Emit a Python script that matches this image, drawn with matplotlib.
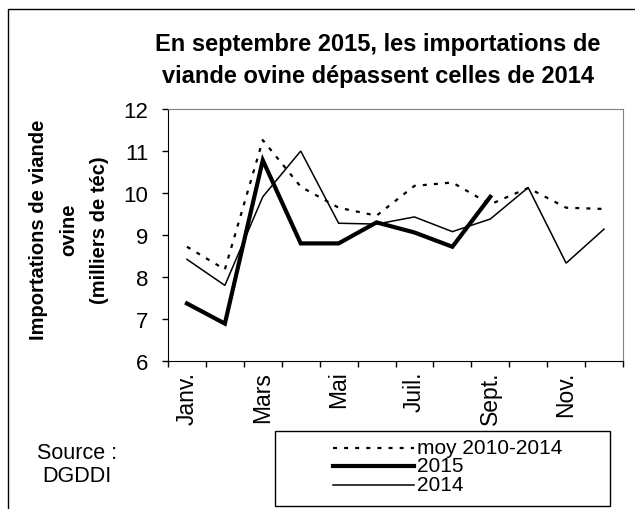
import numpy as np
import matplotlib
matplotlib.use("Agg")
import matplotlib.pyplot as plt
from matplotlib.lines import Line2D
from matplotlib.patches import Rectangle

plt.rcParams['font.family'] = ['Liberation Sans', 'DejaVu Sans']

# Data (milliers de téc)
months = ['Janv.', 'Févr.', 'Mars', 'Avr.', 'Mai', 'Juin',
          'Juil.', 'Août', 'Sept.', 'Oct.', 'Nov.', 'Déc.']
moy_2010_2014 = [8.72, 8.18, 11.26, 10.15, 9.65, 9.46, 10.17, 10.25, 9.73, 10.12, 9.65, 9.62]
imports_2015 = [7.37, 6.89, 10.78, 8.80, 8.80, 9.30, 9.06, 8.72, 9.91]
imports_2014 = [8.42, 7.80, 9.91, 11.00, 9.28, 9.26, 9.43, 9.08, 9.38, 10.13, 8.33, 9.14]

W, H = 635, 510
fig = plt.figure(figsize=(W / 100, H / 100), dpi=100)

# plot area in pixels: left 168, right 623, top 110, bottom 362
ax = fig.add_axes([168 / W, 1 - 362 / H, (623 - 168) / W, (362 - 110) / H])

series = [
    ('moy 2010-2014', moy_2010_2014, dict(color='black', lw=1.6, ls=(0, (1.8, 3.2)))),
    ('2015', imports_2015, dict(color='black', lw=3.0, ls='-')),
    ('2014', imports_2014, dict(color='black', lw=1.1, ls='-')),
]

for label, vals, style in series:
    ax.plot(np.arange(len(vals)), vals, solid_joinstyle='miter', **style)

ax.set_xlim(-0.5, len(months) - 0.5)
ax.set_ylim(6, 12)
ax.set_yticks(range(6, 13))

# category boundaries as major ticks, labels on every other month
ax.set_xticks(np.arange(-0.5, len(months), 1.0))
ax.set_xticklabels([])
ax.set_xticks(np.arange(0, len(months), 2), minor=True)
ax.set_xticklabels(months[::2], minor=True, rotation=90, fontsize=16.5)
ax.tick_params(axis='x', which='minor', length=0, pad=7)
ax.tick_params(axis='x', which='major', direction='out', length=4.5, width=1)
ax.tick_params(axis='y', direction='out', length=4, width=1, labelsize=16, pad=10)

for side in ['top', 'right']:
    ax.spines[side].set_color('#808080')
for side in ['left', 'bottom']:
    ax.spines[side].set_color('black')

# title
fig.text(378 / W, 1 - 61 / H,
         'En septembre 2015, les importations de\nviande ovine dépassent celles de 2014',
         ha='center', va='center', fontsize=17, fontweight='bold', linespacing=1.5)

# y label
fig.text(69 / W, 1 - 230 / H,
         'Importations de viande\novine\n(milliers de téc)',
         ha='center', va='center', rotation=90, fontsize=14.5, fontweight='bold',
         multialignment='center', linespacing=1.75)

# source
fig.text(77 / W, 1 - 465 / H, 'Source :\nDGDDI', ha='center', va='center',
         fontsize=15.5, multialignment='center', linespacing=1.1)

# legend box
fig.add_artist(Rectangle((275 / W, 1 - 507 / H), (610 - 275) / W, (507 - 432) / H,
                         transform=fig.transFigure, facecolor='white',
                         edgecolor='black', lw=1))
row_y = [449, 467, 486]
for (label, vals, style), ry in zip(series, row_y):
    fig.add_artist(Line2D([333 / W, 414 / W], [1 - ry / H, 1 - ry / H],
                          transform=fig.transFigure, **style))
    fig.text(417 / W, 1 - ry / H, label, ha='left', va='center', fontsize=15)

# outer chart border (left and top)
fig.add_artist(Line2D([8 / W, 8 / W, 1.0], [0.0, 1 - 10 / H, 1 - 10 / H],
                      transform=fig.transFigure, color='black', lw=1))

fig.savefig('out.png', dpi=100)
